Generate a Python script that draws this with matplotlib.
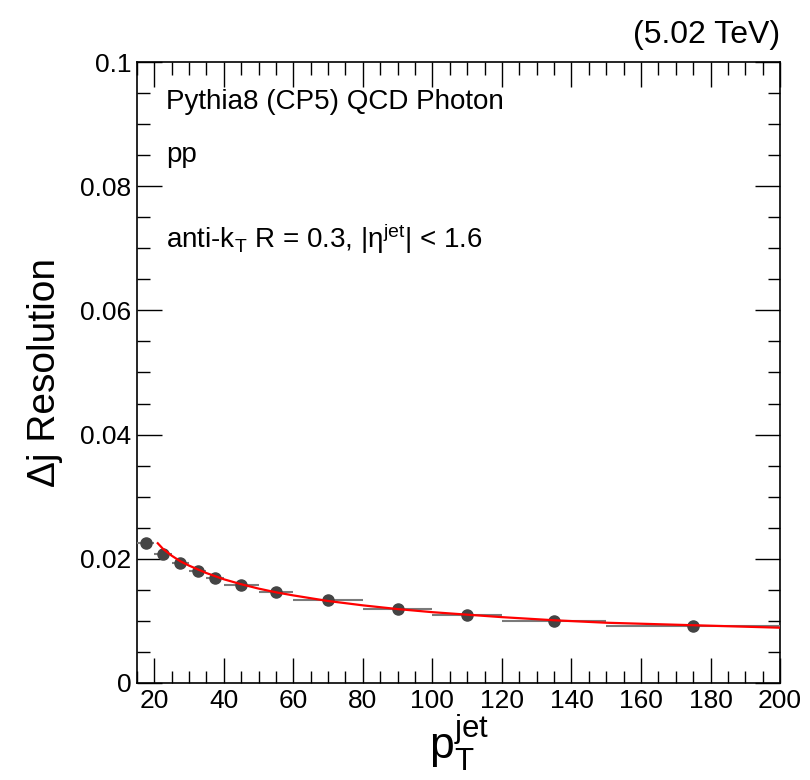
import numpy as np
import matplotlib
matplotlib.use('Agg')
import matplotlib.pyplot as plt
from matplotlib.ticker import MultipleLocator, FuncFormatter

plt.rcParams['font.family'] = ['Liberation Sans', 'DejaVu Sans']
plt.rcParams['mathtext.fontset'] = 'custom'
plt.rcParams['mathtext.rm'] = 'Liberation Sans'
plt.rcParams['mathtext.it'] = 'Liberation Sans:italic'

# bin edges in pT jet and resolution per bin
bin_lo = [15, 20, 25, 30, 35, 40, 50, 60, 80, 100, 120, 150]
bin_hi = [20, 25, 30, 35, 40, 50, 60, 80, 100, 120, 150, 200]
resolution = [0.0225, 0.0207, 0.0194, 0.0181, 0.0169, 0.0158,
              0.0146, 0.0133, 0.0119, 0.0110, 0.0100, 0.0092]

# fit curve, points
fit_x = [21, 22.5, 25, 27.5, 30, 32.5, 35, 37.5, 40, 45, 50, 55, 60,
         70, 80, 90, 100, 110, 120, 135, 150, 175, 200]
fit_y = [0.0225, 0.0216, 0.0205, 0.0196, 0.0189, 0.0183, 0.0177, 0.0172,
         0.0167, 0.0159, 0.0152, 0.0146, 0.0141, 0.0132, 0.0125, 0.0119,
         0.0114, 0.0110, 0.0106, 0.0101, 0.0097, 0.0093, 0.0089]


def main():
    lo = np.array(bin_lo, dtype=float)
    hi = np.array(bin_hi, dtype=float)
    centers = (lo + hi) / 2
    half = (hi - lo) / 2

    fig = plt.figure(figsize=(8.1, 7.8), dpi=100)
    ax = fig.add_axes([0.169, 0.1244, 0.794, 0.7961])

    ax.errorbar(centers, resolution, xerr=half, fmt='o', color='#444444',
                ecolor='#7a7a7a', elinewidth=1.5, markersize=8, capsize=0,
                zorder=3)
    ax.plot(fit_x, fit_y, color='red', lw=1.6, zorder=4)

    ax.set_xlim(15, 200)
    ax.set_ylim(0, 0.1)
    ax.xaxis.set_major_locator(MultipleLocator(20))
    ax.xaxis.set_minor_locator(MultipleLocator(5))
    ax.yaxis.set_major_locator(MultipleLocator(0.02))
    ax.yaxis.set_minor_locator(MultipleLocator(0.005))
    ax.yaxis.set_major_formatter(FuncFormatter(lambda v, p: '%g' % round(v, 4)))
    ax.tick_params(which='both', direction='in', top=True, right=True,
                   labelsize=19, width=1)
    ax.tick_params(which='major', length=18, pad=4)
    ax.tick_params(which='minor', length=9)
    for s in ax.spines.values():
        s.set_linewidth(1.2)

    ax.set_ylabel('Δj Resolution', fontsize=28, labelpad=12)
    ax.set_xlabel(r'$\mathrm{p}_{\mathrm{T}}^{\mathrm{jet}}$', fontsize=32,
                  labelpad=0)

    ax.text(0.045, 0.935, 'Pythia8 (CP5) QCD Photon', transform=ax.transAxes,
            fontsize=20, va='center')
    ax.text(0.045, 0.85, 'pp', transform=ax.transAxes, fontsize=20,
            va='center')
    ax.text(0.045, 0.715,
            r'anti-k$_{\mathrm{T}}$ R = 0.3, |η$^{\mathrm{jet}}$| < 1.6',
            transform=ax.transAxes, fontsize=20, va='center')
    fig.text(0.963, 0.955, '(5.02 TeV)', fontsize=23, ha='right',
             va='center')

    fig.savefig('out.png', dpi=100)


if __name__ == '__main__':
    main()
